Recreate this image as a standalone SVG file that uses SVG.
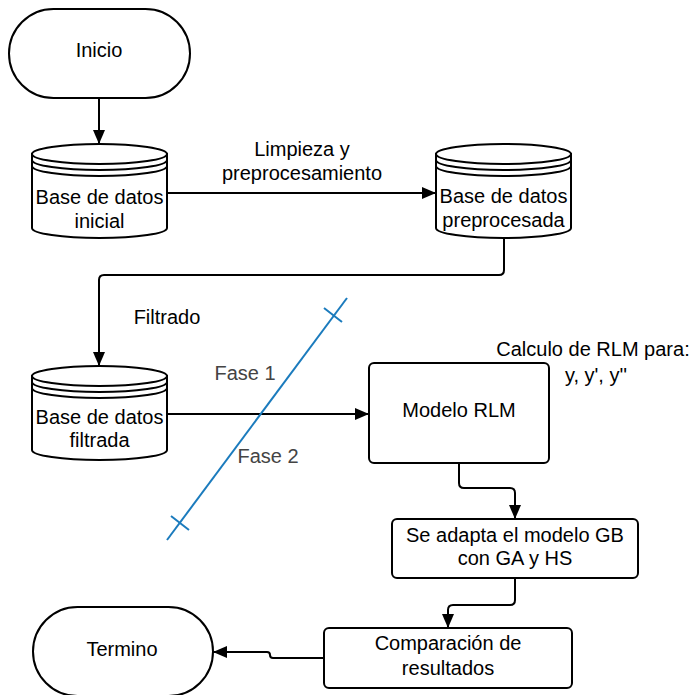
<svg xmlns="http://www.w3.org/2000/svg" width="694" height="695" viewBox="0 0 694 695">
<style>
.s{fill:#fff;stroke:#000;stroke-width:2}
.c{fill:none;stroke:#000;stroke-width:2}
text{font-family:"Liberation Sans",Arial,sans-serif;font-size:20px;fill:#000;text-anchor:middle}
.g{fill:#444}
</style>
<defs>
<marker id="ah" markerUnits="userSpaceOnUse" markerWidth="14" markerHeight="12" refX="14" refY="6" orient="auto">
<path d="M0,0 L14,6 L0,12 z" fill="#000"/>
</marker>
<g id="cyl">
<path class="s" d="M0,10 L0,84 A67.5,10 0 0 0 135,84 L135,10 z"/>
<ellipse class="s" cx="67.5" cy="10" rx="67.5" ry="10"/>
<path class="c" d="M0,16 A67.5,10 0 0 0 135,16 M0,22 A67.5,10 0 0 0 135,22"/>
</g>
</defs>
<rect width="694" height="695" fill="#fff"/>
<g id="connectors">
<path class="c" d="M99,98 L99,144" marker-end="url(#ah)"/>
<path class="c" d="M167,193 L436,193" marker-end="url(#ah)"/>
<path class="c" d="M504,238 L504,270 Q504,275 499,275 L104,275 Q99,275 99,280 L99,366" marker-end="url(#ah)"/>
<path class="c" d="M167,414 L369,414" marker-end="url(#ah)"/>
<path class="c" d="M459,463 L459,483 Q459,488 464,488 L510,488 Q515,488 515,493 L515,519" marker-end="url(#ah)"/>
<path class="c" d="M515,578 L515,600 Q515,605 510,605 L453,605 Q448,605 448,610 L448,628" marker-end="url(#ah)"/>
<path class="c" d="M324,658 L273,658 Q270,658 270,655 Q270,652 267,652 L213,652" marker-end="url(#ah)"/>
<text x="302" y="156">Limpieza y</text>
<text x="302" y="180">preprocesamiento</text>
<text x="167" y="324">Filtrado</text>
</g>
<g id="fase">
<path d="M167,540 L347,298" stroke="#1b7bbd" stroke-width="2" fill="none"/>
<path d="M324,308 L342,322 M171,516 L189,530" stroke="#1b7bbd" stroke-width="2" fill="none"/>
<text class="g" x="245" y="380">Fase 1</text>
<text class="g" x="268" y="463">Fase 2</text>
</g>
<g id="inicio">
<rect class="s" x="9" y="9" width="181" height="89" rx="44.5"/>
<text x="99" y="57">Inicio</text>
</g>
<g id="bd_inicial">
<use href="#cyl" transform="translate(32,144)"/>
<text x="99.5" y="204">Base de datos</text>
<text x="99.5" y="228">inicial</text>
</g>
<g id="bd_preprocesada">
<use href="#cyl" transform="translate(436,144)"/>
<text x="503.5" y="203">Base de datos</text>
<text x="503.5" y="227">preprocesada</text>
</g>
<g id="bd_filtrada">
<use href="#cyl" transform="translate(32,366)"/>
<text x="99.5" y="424">Base de datos</text>
<text x="99.5" y="447">filtrada</text>
</g>
<g id="modelo_rlm">
<rect class="s" x="369" y="363" width="180" height="100" rx="5"/>
<text x="459" y="417">Modelo RLM</text>
</g>
<g id="calculo">
<text x="593" y="356">Calculo de RLM para:</text>
<text x="596" y="382">y, y', y''</text>
</g>
<g id="gb">
<rect class="s" x="392" y="519" width="246" height="59" rx="5"/>
<text x="515" y="542">Se adapta el modelo GB</text>
<text x="515" y="565">con GA y HS</text>
</g>
<g id="comparacion">
<rect class="s" x="324" y="628" width="248" height="60" rx="5"/>
<text x="448" y="650">Comparación de</text>
<text x="448" y="675">resultados</text>
</g>
<g id="termino">
<rect class="s" x="33" y="607" width="180" height="89" rx="44.5"/>
<text x="122" y="656">Termino</text>
</g>
</svg>
